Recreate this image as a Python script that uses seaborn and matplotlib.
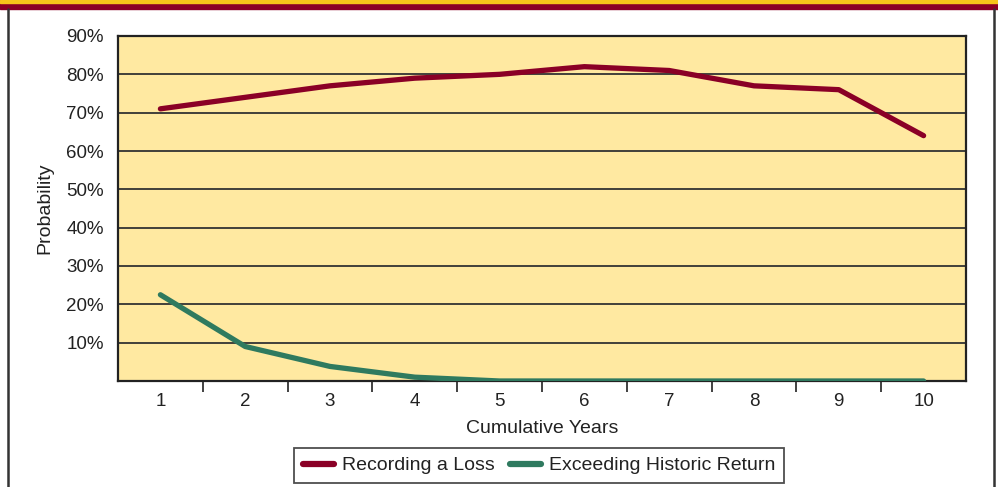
import pandas as pd
import matplotlib.pyplot as plt
import seaborn as sns
from matplotlib.patches import Rectangle
from matplotlib.lines import Line2D

# values (percent)
years = [1, 2, 3, 4, 5, 6, 7, 8, 9, 10]
recording_loss = [71, 74, 77, 79, 80, 82, 81, 77, 76, 64]
exceeding_return = [22.5, 9, 3.8, 1, 0, 0, 0, 0, 0, 0]
series_names = ['Recording a Loss', 'Exceeding Historic Return']
y_ticks = [10, 20, 30, 40, 50, 60, 70, 80, 90]

df = pd.DataFrame({
    'year': years * 2,
    'prob': recording_loss + exceeding_return,
    'series': [series_names[0]] * len(years) + [series_names[1]] * len(years),
})

sns.set_style('white')
plt.rcParams['font.family'] = ['Liberation Sans', 'DejaVu Sans']

red = '#8a0026'
green = '#2f7a5f'
palette = {series_names[0]: red, series_names[1]: green}

fig = plt.figure(figsize=(9.98, 4.87), dpi=100)
ax = fig.add_axes([118 / 998, 1 - 381 / 487, (966 - 118) / 998, (381 - 36) / 487])
ax.set_facecolor('#ffe9a1')

sns.lineplot(data=df, x='year', y='prob', hue='series', palette=palette,
             linewidth=3.8, solid_capstyle='round', legend=False, ax=ax, zorder=3)

ax.set_xlim(0.5, 10.5)
ax.set_ylim(0, 90)

# horizontal rules
for v in y_ticks[:-1]:
    ax.axhline(v, color='#333333', linewidth=1.3, zorder=1)

ax.set_yticks(y_ticks)
ax.set_yticklabels([f'{v}%' for v in y_ticks])
ax.set_xticks(years)
ax.set_xticklabels([str(y) for y in years])
ax.set_xticks([y + 0.5 for y in years[:-1]], minor=True)

ax.tick_params(axis='y', which='major', direction='out', length=9, width=1.3,
               color='#333333', labelsize=13.5, pad=1, labelcolor='#222222')
ax.tick_params(axis='x', which='major', length=0, labelsize=13.5, pad=9, labelcolor='#222222')
ax.tick_params(axis='x', which='minor', direction='out', length=8, width=1.3, color='#333333',
               bottom=True)

for s in ax.spines.values():
    s.set_color('#222222')
    s.set_linewidth(1.6)

ax.set_xlabel('Cumulative Years', fontsize=14, color='#222222', labelpad=7)
ax.set_ylabel('Probability', fontsize=14, color='#222222')
ax.yaxis.set_label_coords(-0.076, 0.5)

handles = [Line2D([0], [0], color=palette[n], linewidth=4.5, solid_capstyle='round')
           for n in series_names]
leg = fig.legend(handles, series_names, loc='center', bbox_to_anchor=(539 / 998, 1 - 465.5 / 487),
                 ncol=2, fontsize=14, frameon=True, fancybox=False, handlelength=1.6,
                 handletextpad=0.4, columnspacing=0.8, borderpad=0.45)
leg.get_frame().set_edgecolor('#222222')
leg.get_frame().set_linewidth(1.3)
for t in leg.get_texts():
    t.set_color('#222222')

# banner on top and the frame lines at the sides
fig.patches.append(Rectangle((0, 1 - 9 / 487), 1, 9 / 487, transform=fig.transFigure,
                             color='#8a0026', zorder=0))
fig.patches.append(Rectangle((0, 1 - 2.5 / 487), 1, 2.5 / 487, transform=fig.transFigure,
                             color='#f6c51a', zorder=1))
fig.add_artist(Line2D([8 / 998, 8 / 998], [0, 1 - 9 / 487], color='#333333', linewidth=1.8))
fig.add_artist(Line2D([994 / 998, 994 / 998], [0, 1 - 9 / 487], color='#333333', linewidth=1.8))

fig.savefig('out.png', dpi=100)
